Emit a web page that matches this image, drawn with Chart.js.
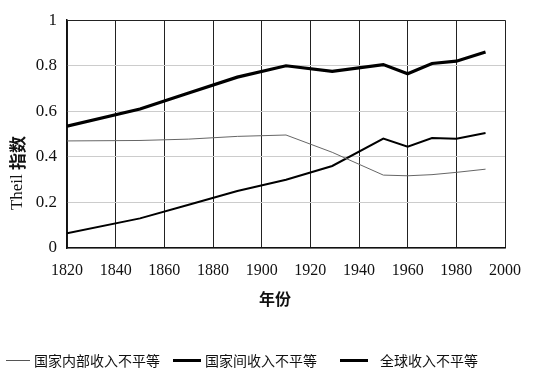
<!DOCTYPE html>
<html>
<head>
<meta charset="utf-8">
<script src="https://cdn.jsdelivr.net/npm/chart.js@4"></script>
<style>
  html, body { margin: 0; padding: 0; background: #fff; }
  #wrap { position: relative; width: 534px; height: 372px; }
  .lg { position: absolute; font: 14px "Noto Sans CJK SC", sans-serif; color: #111; white-space: nowrap; }
  .lg i { position: absolute; background: #000; }
</style>
</head>
<body>
<div id="wrap">
  <canvas id="theilChart" width="534" height="372"></canvas>
  <div class="lg" style="left:0;top:350px"><i style="left:6px;top:10px;width:24px;height:1px;background:#555"></i><span style="position:absolute;left:34px">国家内部收入不平等</span></div>
  <div class="lg" style="left:173px;top:350px"><i style="left:0;top:9px;width:28px;height:3px"></i><span style="position:absolute;left:32px">国家间收入不平等</span></div>
  <div class="lg" style="left:340px;top:350px"><i style="left:0;top:9px;width:28px;height:3px"></i><span style="position:absolute;left:40px">全球收入不平等</span></div>
</div>
<script>
// data (Theil index)
var years = [1820, 1850, 1870, 1890, 1910, 1929, 1950, 1960, 1970, 1980, 1992];
var withinCountry = [0.47, 0.472, 0.478, 0.49, 0.496, 0.42, 0.32, 0.317, 0.322, 0.332, 0.346];
var betweenCountry = [0.065, 0.13, 0.19, 0.25, 0.30, 0.36, 0.48, 0.445, 0.483, 0.48, 0.505];
var globalIneq = [0.535, 0.61, 0.68, 0.75, 0.80, 0.775, 0.805, 0.765, 0.81, 0.82, 0.86];
var seriesNames = ['国家内部收入不平等', '国家间收入不平等', '全球收入不平等'];
var xTitle = '年份';

function pts(vals) {
    return years.map((y, i) => ({ x: y, y: vals[i] }));
}

// axis titles drawn by hand so they sit where the original has them
var titlesPlugin = {
    id: 'titles',
    afterDraw(chart) {
        var ctx = chart.ctx;
        ctx.save();
        ctx.fillStyle = '#111';
        ctx.textBaseline = 'middle';
        ctx.textAlign = 'center';
        ctx.font = 'bold 16px "Noto Sans CJK SC", sans-serif';
        ctx.fillText(xTitle, 275, 299);
        ctx.translate(18, 173);
        ctx.rotate(-Math.PI / 2);
        ctx.font = '17px "Liberation Serif", serif';
        var w1 = ctx.measureText('Theil ').width;
        ctx.font = 'bold 17px "Noto Sans CJK SC", sans-serif';
        var w2 = ctx.measureText('指数').width;
        var x0 = -(w1 + w2) / 2;
        ctx.textAlign = 'left';
        ctx.font = '17px "Liberation Serif", serif';
        ctx.fillText('Theil ', x0, 0);
        ctx.font = 'bold 17px "Noto Sans CJK SC", sans-serif';
        ctx.fillText('指数', x0 + w1, 0);
        ctx.restore();
    }
};

new Chart(document.getElementById('theilChart'), {
    type: 'line',
    data: {
        datasets: [
            { label: seriesNames[0], data: pts(withinCountry), borderColor: '#666', borderWidth: 1, pointRadius: 0, tension: 0 },
            { label: seriesNames[1], data: pts(betweenCountry), borderColor: '#000', borderWidth: 2, pointRadius: 0, tension: 0 },
            { label: seriesNames[2], data: pts(globalIneq), borderColor: '#000', borderWidth: 3.2, pointRadius: 0, tension: 0 }
        ]
    },
    options: {
        responsive: false,
        animation: false,
        layout: { padding: { top: 18, right: 25, left: 0, bottom: 0 } },
        plugins: { legend: { display: false }, tooltip: { enabled: false } },
        scales: {
            x: {
                type: 'linear', min: 1820, max: 2000,
                afterFit: s => { s.height = 124; },
                ticks: { stepSize: 20, padding: 13, color: '#111', font: { family: '"Liberation Serif", serif', size: 16 }, callback: v => String(v) },
                grid: { color: '#222', lineWidth: 1, drawTicks: false },
                border: { color: '#111', width: 1.5 }
            },
            y: {
                min: 0, max: 1,
                afterFit: s => { s.width = 67; },
                ticks: { stepSize: 0.2, padding: 10, color: '#111', font: { family: '"Liberation Serif", serif', size: 17 }, callback: v => (v === 0 || v === 1) ? String(v) : v.toFixed(1) },
                grid: { color: ctx => ctx.tick && ctx.tick.value === 1 ? '#222' : '#ccc', lineWidth: 1, drawTicks: false },
                border: { color: '#111', width: 1.5 }
            }
        }
    },
    plugins: [titlesPlugin]
});
</script>
</body>
</html>
